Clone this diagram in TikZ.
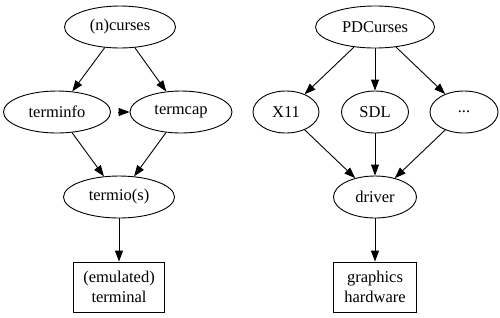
\documentclass[tikz,border=0pt]{standalone}
\usepackage{fontspec}
\setmainfont{Liberation Serif}
\usetikzlibrary{shapes.geometric,arrows.meta}

\begin{document}
\begin{tikzpicture}[x=1pt, y=-1pt,
	every node/.style={font=\fontsize{16.5}{19.8}\selectfont, inner sep=0pt},
	elip/.style={ellipse, draw, line width=0.9pt, minimum height=42pt},
	caja/.style={rectangle, draw, line width=0.9pt, minimum height=50pt, align=center},
	flecha/.style={line width=0.9pt, -{Triangle[length=11pt,width=8pt]}}]

\useasboundingbox (0,0) rectangle (500,317);

% Lado izquierdo
\node[elip, minimum width=111pt] (ncurses) at (120,27) {(n)curses};
\node[elip, minimum width=107pt] (terminfo) at (57,112) {terminfo};
\node[elip, minimum width=102pt] (termcap) at (181,112) {termcap};
\node[elip, minimum width=111pt] (termio) at (119,197) {termio(s)};
\node[caja, minimum width=91pt] (terminal) at (119,287) {(emulated)\\terminal};

	\foreach \a/\b in {ncurses/terminfo, ncurses/termcap, terminfo/termio, termcap/termio, termio/terminal}
		\draw[flecha] (\a) -- (\b);

	\draw[flecha, shorten <=7pt] (terminfo) -- (termcap);

% Lado derecho
\node[elip, minimum width=119pt] (pdc) at (375,27) {PDCurses};
\node[elip, minimum width=66pt] (x11) at (286,112) {X11};
\node[elip, minimum width=67pt] (sdl) at (375,112) {SDL};
\node[elip, minimum width=68pt] (otros) at (464,112) {...};
\node[elip, minimum width=83pt] (driver) at (375,197) {driver};
\node[caja, minimum width=83pt] (hw) at (375,287) {graphics\\hardware};

	\foreach \b in {x11, sdl, otros} {
		\draw[flecha] (pdc) -- (\b);
		\draw[flecha] (\b) -- (driver);
	}

	\draw[flecha] (driver) -- (hw);
\end{tikzpicture}
\end{document}
